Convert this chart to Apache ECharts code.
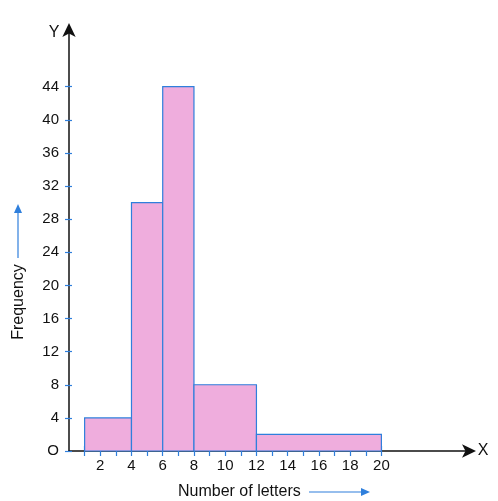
<!DOCTYPE html>
<html>
<head>
<meta charset="utf-8">
<script src="https://cdn.jsdelivr.net/npm/echarts@6/dist/echarts.min.js"></script>
<style>html,body{margin:0;padding:0;background:#fff}#c{width:498px;height:501px}</style>
</head>
<body>
<div id="c"></div>
<script>
// Class intervals (number of letters) and frequencies
const classStarts = [1, 4, 6, 8, 12];
const classEnds = [4, 6, 8, 12, 20];
const frequencies = [4, 30, 44, 8, 2];
const xTickValues = [1,2,3,4,5,6,7,8,9,10,11,12,13,14,15,16,17,18,19,20];
const xLabelValues = [2,4,6,8,10,12,14,16,18,20];
const yTickValues = [0,4,8,12,16,20,24,28,32,36,40,44];

const FONT = 'Liberation Sans, Arial, sans-serif';
const BLUE = '#2f7fdc';
const INK = '#111';
const data = classStarts.map((s, i) => [s, classEnds[i], frequencies[i]]);

const chart = echarts.init(document.getElementById('c'));
const xBase = {type: 'value', min: 0, max: 25.8, splitLine: {show: false}, gridIndex: 0};
const yBase = {type: 'value', min: 0, max: 51.2, splitLine: {show: false}, gridIndex: 0};
chart.setOption({
  animation: false,
  grid: {left: 69, right: 26, top: 27, bottom: 50, containLabel: false},
  xAxis: [
    Object.assign({}, xBase, {
      position: 'bottom',
      axisLine: {show: true, lineStyle: {color: INK, width: 1.5}, symbol: ['none', 'arrow'], symbolSize: [10, 14], symbolOffset: [0, 4]},
      axisTick: {show: true, customValues: xTickValues, length: 5, lineStyle: {color: BLUE, width: 1.2}},
      axisLabel: {show: true, customValues: xLabelValues, color: INK, fontSize: 15, fontFamily: FONT, margin: 7}
    }),
    Object.assign({}, xBase, {
      position: 'bottom',
      axisLine: {show: false},
      axisTick: {show: true, inside: true, customValues: xTickValues, length: 5, lineStyle: {color: BLUE, width: 1.2}},
      axisLabel: {show: false}
    })
  ],
  yAxis: [
    Object.assign({}, yBase, {
      position: 'left',
      axisLine: {show: true, lineStyle: {color: INK, width: 1.5}, symbol: ['none', 'arrow'], symbolSize: [10, 14], symbolOffset: [0, 4]},
      axisTick: {show: true, customValues: yTickValues, length: 4, lineStyle: {color: BLUE, width: 1.2}},
      axisLabel: {show: true, customValues: yTickValues, color: INK, fontSize: 15, fontFamily: FONT, margin: 10,
        formatter: v => v === 0 ? 'O' : String(v)}
    }),
    Object.assign({}, yBase, {
      position: 'left',
      axisLine: {show: false},
      axisTick: {show: true, inside: true, customValues: yTickValues, length: 3, lineStyle: {color: BLUE, width: 1.2}},
      axisLabel: {show: false}
    })
  ],
  series: [{
    type: 'custom',
    xAxisIndex: 0,
    yAxisIndex: 0,
    data: data,
    z: 1,
    renderItem: function (params, api) {
      const p0 = api.coord([api.value(0), api.value(2)]);
      const p1 = api.coord([api.value(1), 0]);
      return {
        type: 'rect',
        shape: {x: p0[0], y: p0[1], width: p1[0] - p0[0], height: p1[1] - p0[1]},
        style: {fill: '#efaddd', stroke: BLUE, lineWidth: 1.2}
      };
    }
  }],
  graphic: [
    {type: 'text', x: 54, y: 33, style: {text: 'Y', fontSize: 16, fontFamily: FONT, fill: INK, textAlign: 'center', textVerticalAlign: 'middle'}},
    {type: 'text', x: 483, y: 451, style: {text: 'X', fontSize: 16, fontFamily: FONT, fill: INK, textAlign: 'center', textVerticalAlign: 'middle'}},
    {type: 'text', x: 19, y: 302, rotation: Math.PI / 2, style: {text: 'Frequency', fontSize: 16, fontFamily: FONT, fill: INK, textAlign: 'center', textVerticalAlign: 'middle'}},
    {type: 'line', shape: {x1: 18, y1: 258, x2: 18, y2: 212}, style: {stroke: BLUE, lineWidth: 1.2}},
    {type: 'polygon', shape: {points: [[18, 204], [14, 213], [22, 213]]}, style: {fill: BLUE}},
    {type: 'text', x: 178, y: 492, style: {text: 'Number of letters', fontSize: 16, fontFamily: FONT, fill: INK, textAlign: 'left', textVerticalAlign: 'middle'}},
    {type: 'line', shape: {x1: 309, y1: 492, x2: 362, y2: 492}, style: {stroke: BLUE, lineWidth: 1.2}},
    {type: 'polygon', shape: {points: [[370, 492], [361, 488], [361, 496]]}, style: {fill: BLUE}}
  ]
});
</script>
</body>
</html>
